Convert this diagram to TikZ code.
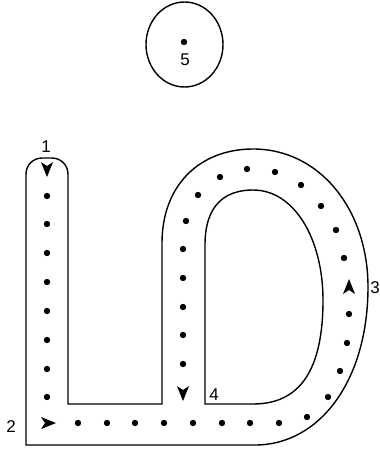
\documentclass[tikz,border=0pt]{standalone}
\usepackage{fontspec}
\setmainfont{Liberation Sans}
\begin{document}
\begin{tikzpicture}[x=1pt,y=-1pt,
  outline/.style={line width=1.4pt, draw=black},
  trackdot/.style={fill=black},
  lbl/.style={font=\fontsize{17}{20}\selectfont, inner sep=0pt}]
\useasboundingbox (0,0) rectangle (380,453);
% outer contour
\draw[outline] (26,445) -- (26,174) arc[start angle=180, end angle=270, radius=16]
  -- (52,158) arc[start angle=270, end angle=360, radius=16]
  -- (68,404) -- (162,404) -- (162,243)
  .. controls (162,185) and (200,149) .. (253,149)
  .. controls (320,149) and (368,210) .. (368,287)
  .. controls (368,380) and (320,445) .. (255,445) -- cycle;
% inner contour
\draw[outline] (205,404) -- (205,245)
  .. controls (205,205) and (225,190) .. (253,190)
  .. controls (295,190) and (323,240) .. (323,300)
  .. controls (323,370) and (300,404) .. (253,404) -- cycle;
% ellipse 5
\draw[line width=1.4pt] (184.5,44.5) ellipse[x radius=38.5, y radius=42.5];
\fill[trackdot] (184,42) circle[radius=3.2];
\node[lbl] (l5) at (185,60) {5};
% dots
\foreach \y in {196,224,253,282,311,340,369,397} \fill[trackdot] (47,\y) circle[radius=3.2];
\foreach \x in {78,107,135,164,193,222,250,279} \fill[trackdot] (\x,423) circle[radius=3.2];
\foreach \p in {(307,417),(328,397),(340,371),(347,343),(349,314),(344,258),(336,230),(321,206),(301,185),(275,172),(247,169),(220,177),(198,195),(186,221),(183,249),(183,278),(183,307),(183,335),(183,364)}
  \fill[trackdot] \p circle[radius=3.2];
% arrowheads
\foreach \ax/\ay/\ang in {47/169/-90, 48/423/0, 349/287/90, 183/393/-90}
  \fill[shift={(\ax,\ay)}, rotate=\ang] (8,0) -- (-7,6) -- (-3,0) -- (-7,-6) -- cycle;
% labels
\node[lbl] (l1) at (46,147) {1};
\node[lbl] (l2) at (11,427) {2};
\node[lbl] (l3) at (375,288) {3};
\node[lbl] (l4) at (214,395) {4};
\end{tikzpicture}
\end{document}
